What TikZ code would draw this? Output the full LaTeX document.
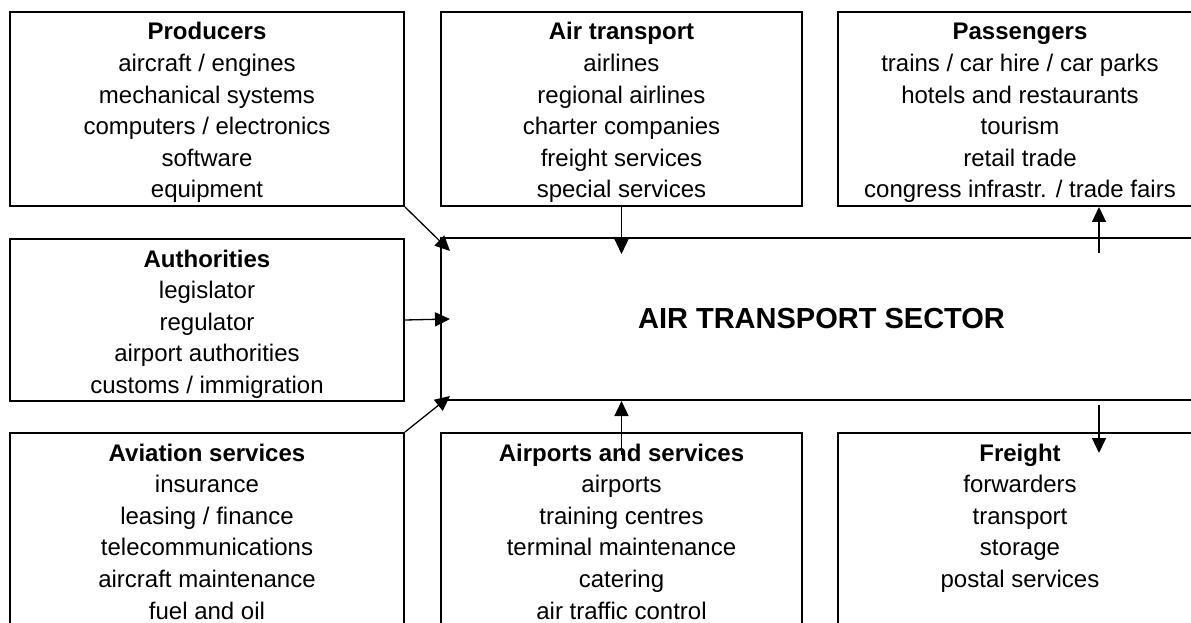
\documentclass[tikz,border=0pt]{standalone}
\usepackage{fontspec}
\setmainfont{Liberation Sans}
\usetikzlibrary{arrows.meta}
\usetikzlibrary{calc}
\usetikzlibrary{positioning}
\tikzset{
  sectorbox/.style={
    draw, line width=2pt, inner sep=0, anchor=north, align=center,
    font=\fontsize{24pt}{31.6pt}\selectfont
  },
  tallbox/.style={sectorbox, text height=186pt, text depth=8pt},
  shortbox/.style={sectorbox, text height=154.4pt, text depth=39.6pt},
  lowbox/.style={sectorbox, text height=154.4pt, text depth=7.6pt},
  arrow/.style={-{Triangle[length=15pt,width=14pt]}, line width=1.3pt}
}

\begin{document}
\begin{tikzpicture}[x=1pt,y=1pt]
      \useasboundingbox (0,0) rectangle (1191,622);
      \clip (0,0) rectangle (1191,622);
      \node[tallbox, minimum width=394pt] (producers) at (207,611) {\textbf{Producers}\\ aircraft / engines\\ mechanical systems\\ computers / electronics\\ software\\ equipment};
      \node[tallbox, minimum width=361pt] (airtransport) at (621.5,611) {\textbf{Air transport}\\ airlines\\ regional airlines\\ charter companies\\ freight services\\ special services};
      \node[tallbox, minimum width=364pt] (passengers) at (1020,611) {\textbf{Passengers}\\ trains / car hire / car parks\\ hotels and restaurants\\ tourism\\ retail trade\\ congress infrastr. / trade fairs};
      \node[lowbox, minimum width=394pt] (authorities) at (207,384) {\textbf{Authorities}\\ legislator\\ regulator\\ airport authorities\\ customs / immigration};
      \node[draw, line width=2pt, minimum width=761pt, minimum height=162pt,
            font=\fontsize{29pt}{34pt}\selectfont\bfseries] (sector) at (821.5,303) {AIR TRANSPORT SECTOR};
      \node[tallbox, minimum width=394pt] (aviation) at (207,190) {\textbf{Aviation services}\\ insurance\\ leasing / finance\\ telecommunications\\ aircraft maintenance\\ fuel and oil};
      \node[tallbox, minimum width=361pt] (airports) at (621.5,190) {\textbf{Airports and services}\\ airports\\ training centres\\ terminal maintenance\\ catering\\ air traffic control};
      \node[shortbox, minimum width=364pt] (freight) at (1020,190) {\textbf{Freight}\\ forwarders\\ transport\\ storage\\ postal services};

      \draw[arrow] (producers.south east) -- ($(sector.north west)+(10,-14)$);
      \draw[arrow] (authorities.east) -- ($(sector.west)+(10,0)$);
      \draw[arrow] (aviation.north east) -- ($(sector.south west)+(10,5)$);
      \draw[arrow] (airtransport.south) -- ($(airtransport.south)+(0,-47)$);
      \draw[arrow] ($(airports.north)+(0,-23)$) -- (airports.north |- sector.south);
      \draw[arrow] ($(passengers.south west)+(262,-46)$) -- ($(passengers.south west)+(262,0)$);
      \draw[arrow] ($(freight.north west)+(262,27)$) -- ($(freight.north west)+(262,-21)$);
    \end{tikzpicture}
\end{document}
